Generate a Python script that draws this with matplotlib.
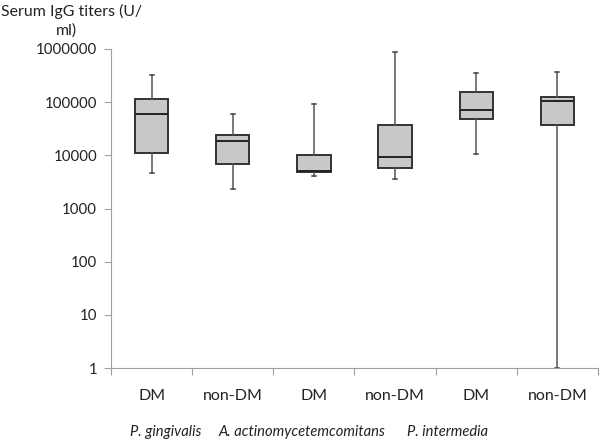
import matplotlib
matplotlib.use("Agg")
import matplotlib.pyplot as plt
from matplotlib.transforms import blended_transform_factory

categories = ["DM", "non-DM", "DM", "non-DM", "DM", "non-DM"]
groups = ["P. gingivalis", "A. actinomycetemcomitans", "P. intermedia"]
whisker_low = [4730, 2310, 4050, 3560, 10640, 1]
q1 = [11250, 6990, 4820, 5880, 47700, 36800]
median = [60800, 18660, 5000, 9460, 70400, 105000]
q3 = [115000, 24500, 10050, 37300, 157000, 123700]
whisker_high = [320000, 59300, 92500, 889000, 349000, 369000]
ytick_vals = [1, 10, 100, 1000, 10000, 100000, 1000000]
ytick_labels = ["1", "10", "100", "1000", "10000", "100000", "1000000"]

plt.rcParams['font.family'] = ['Lato', 'DejaVu Sans']

W, H = 600, 442
fig = plt.figure(figsize=(6, 4.42), dpi=100)
left, right, top, bottom = 111, 598, 49, 368
ax = fig.add_axes([left / W, 1 - bottom / H, (right - left) / W, (bottom - top) / H])

stats = []
for i in range(len(categories)):
    stats.append(dict(med=median[i], q1=q1[i], q3=q3[i],
                      whislo=whisker_low[i], whishi=whisker_high[i], fliers=[]))

ax.bxp(stats, positions=range(len(categories)), widths=0.41, patch_artist=True,
       showfliers=False,
       boxprops=dict(facecolor="#c8c8c8", edgecolor="#333333", linewidth=1.4),
       medianprops=dict(color="#222222", linewidth=1.4),
       whiskerprops=dict(color="#555555", linewidth=1.1),
       capprops=dict(color="#444444", linewidth=1.1),
       capwidths=0.05)

ax.set_yscale("log")
ax.set_ylim(1, 1000000)
ax.set_xlim(-0.5, len(categories) - 0.5)
ax.set_yticks(ytick_vals)
ax.set_yticklabels(ytick_labels, fontsize=10.8, color="#222222")
ax.yaxis.set_minor_locator(matplotlib.ticker.NullLocator())
ax.tick_params(axis="y", length=5, width=0.8, color="#a0a0a0", pad=5)

ax.set_xticks([i - 0.5 for i in range(len(categories) + 1)])
ax.set_xticklabels([])
ax.tick_params(axis="x", length=5, width=0.8, color="#a0a0a0")

for s in ["top", "right"]:
    ax.spines[s].set_visible(False)
for s in ["left", "bottom"]:
    ax.spines[s].set_color("#a0a0a0")
    ax.spines[s].set_linewidth(0.8)

trans = blended_transform_factory(ax.transData, fig.transFigure)
for i, c in enumerate(categories):
    ax.text(i, 1 - 396 / H, c, transform=trans, ha="center", va="center",
            fontsize=11.5, color="#222222")

group_x = [0.178, 1.853, 3.65]
for gx, g in zip(group_x, groups):
    ax.text(gx, 1 - 432 / H, g, transform=trans, ha="center", va="center",
            fontsize=10.6, style="italic", color="#222222")

fig.text(1 / W, 1 - 11 / H, "Serum IgG titers (U/", ha="left", va="center",
         fontsize=11.4, color="#222222")
fig.text(66 / W, 1 - 31 / H, "ml)", ha="center", va="center",
         fontsize=11.4, color="#222222")

fig.savefig("out.png", dpi=100)
